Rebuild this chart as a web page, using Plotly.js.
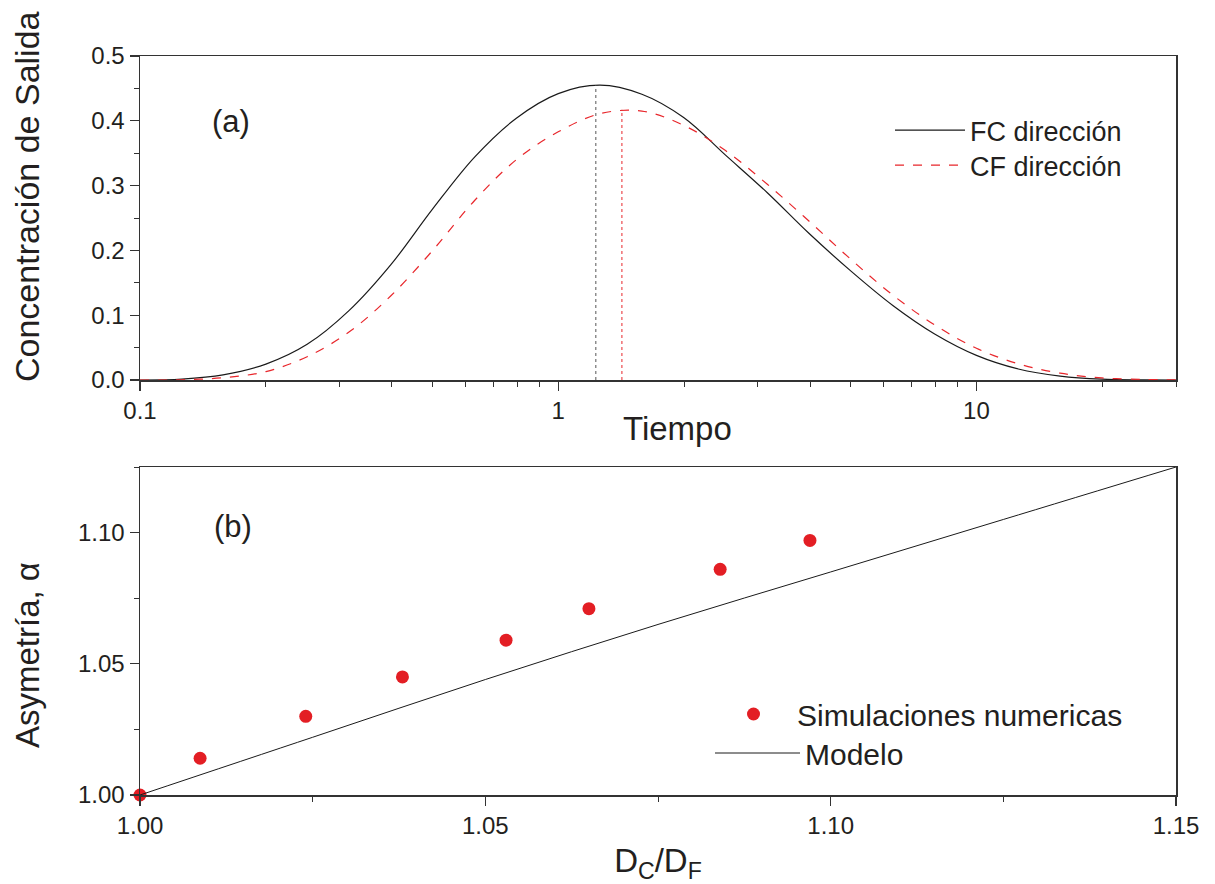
<!DOCTYPE html>
<html>
<head>
<meta charset="utf-8">
<script src="https://cdn.plot.ly/plotly-3.0.1.min.js"></script>
<style>html,body{margin:0;padding:0;background:#fff;}#chart{width:1215px;height:884px;}</style>
</head>
<body>
<div id="chart"></div>
<script>
// ---- Panel (a) data: output concentration vs time ----
var tiempo  = [0.1, 0.126, 0.158, 0.2, 0.251, 0.316, 0.398, 0.501, 0.631, 0.794, 1.0, 1.259, 1.585, 1.995, 2.512, 3.162, 3.981, 5.012, 6.31, 7.943, 10, 12.59, 15.85, 19.95, 25.12, 30];
var concFC  = [0.000, 0.0015, 0.008, 0.0245, 0.055, 0.107, 0.178, 0.264, 0.344, 0.404, 0.442, 0.455, 0.441, 0.405, 0.347, 0.289, 0.226, 0.168, 0.115, 0.071, 0.038, 0.017, 0.006, 0.0012, 0.0002, 0.0000];
var concCF  = [0.000, 0.0004, 0.0035, 0.013, 0.036, 0.074, 0.130, 0.200, 0.277, 0.340, 0.383, 0.411, 0.415, 0.393, 0.354, 0.302, 0.245, 0.186, 0.131, 0.085, 0.049, 0.025, 0.0105, 0.0032, 0.0008, 0.0002];
var peakT   = [1.23, 1.42];     // FC, CF peak times
var peakC   = [0.455, 0.417];   // FC, CF peak concentrations
var seriesA = ['FC dirección', 'CF dirección'];

// ---- Panel (b) data: asymmetry vs diffusivity ratio ----
var ratioSim = [1.000, 1.0087, 1.024, 1.038, 1.053, 1.065, 1.084, 1.097];
var asimSim  = [1.000, 1.014, 1.030, 1.045, 1.059, 1.071, 1.086, 1.097];
var ratioMod = [1.000, 1.025, 1.050, 1.075, 1.100, 1.125, 1.150];
var asimMod  = [1.000, 1.022, 1.044, 1.065, 1.085, 1.105, 1.125];
var seriesB  = ['Simulaciones numericas', 'Modelo'];

// ---- Titles ----
var titleXA = 'Tiempo';
var titleYA = 'Concentración de Salida';
var titleXB = 'D<sub>C</sub>/D<sub>F</sub>';
var titleYB = 'Asymetría, α';

var FONT = 'Liberation Sans, Arial, Helvetica, sans-serif';
var INK = '#231f20';
var RED = '#e8262b';

var traces = [
  {x: tiempo, y: concFC, type: 'scatter', mode: 'lines', name: seriesA[0],
   line: {color: '#1a1a1a', width: 1.2, shape: 'spline', smoothing: 1}, xaxis: 'x', yaxis: 'y', legend: 'legend'},
  {x: tiempo, y: concCF, type: 'scatter', mode: 'lines', name: seriesA[1],
   line: {color: RED, width: 1.2, dash: 'dash', shape: 'spline', smoothing: 1}, xaxis: 'x', yaxis: 'y', legend: 'legend4'},
  {x: [peakT[0], peakT[0]], y: [0, peakC[0]], type: 'scatter', mode: 'lines', showlegend: false,
   line: {color: '#555', width: 1, dash: 'dot'}, xaxis: 'x', yaxis: 'y', hoverinfo: 'skip'},
  {x: [peakT[1], peakT[1]], y: [0, peakC[1]], type: 'scatter', mode: 'lines', showlegend: false,
   line: {color: RED, width: 1, dash: 'dot'}, xaxis: 'x', yaxis: 'y', hoverinfo: 'skip'},
  {x: ratioSim, y: asimSim, type: 'scatter', mode: 'markers', name: seriesB[0], cliponaxis: false,
   marker: {color: '#e31e24', size: 13}, xaxis: 'x2', yaxis: 'y2', legend: 'legend2'},
  {x: ratioMod, y: asimMod, type: 'scatter', mode: 'lines', name: seriesB[1],
   line: {color: '#1a1a1a', width: 1, shape: 'spline'}, xaxis: 'x2', yaxis: 'y2', legend: 'legend3'}
];

function axisBase() {
  return {
    showline: true, mirror: true, linecolor: '#333', linewidth: 1.5,
    showgrid: false, zeroline: false,
    ticks: 'outside', ticklen: 9, tickwidth: 1.3, tickcolor: '#333',
    tickfont: {family: FONT, size: 24, color: INK},
    automargin: false
  };
}
var minorBase = {ticks: 'outside', ticklen: 5, tickwidth: 1, tickcolor: '#333', showgrid: false};

var xA = Object.assign(axisBase(), {
  domain: [140/1215, 1176/1215], anchor: 'y', type: 'log',
  range: [-1, Math.log10(30)], tickmode: 'linear', tick0: 0, dtick: 1,
  minor: Object.assign({}, minorBase, {dtick: 'D1'})
});
var yA = Object.assign(axisBase(), {
  domain: [(884-380)/884, (884-56)/884], anchor: 'x',
  range: [0, 0.5], dtick: 0.1, tick0: 0, tickformat: '.1f',
  minor: Object.assign({}, minorBase, {dtick: 0.05})
});
var xB = Object.assign(axisBase(), {
  domain: [140/1215, 1176/1215], anchor: 'y2',
  range: [1.0, 1.15], dtick: 0.05, tick0: 1, tickformat: '.2f',
  minor: Object.assign({}, minorBase, {dtick: 0.025}),
  title: {text: titleXB, font: {family: FONT, size: 33, color: INK}, standoff: 11}
});
var yB = Object.assign(axisBase(), {
  domain: [(884-795)/884, (884-467)/884], anchor: 'x2',
  range: [1.0, 1.125], dtick: 0.05, tick0: 1, tickformat: '.2f',
  minor: Object.assign({}, minorBase, {dtick: 0.025})
});

function legendAt(xpx, ypx, iw, size) {
  return {x: xpx/1215, y: 1 - ypx/884, xanchor: 'left', yanchor: 'top', itemwidth: iw,
          bgcolor: 'rgba(0,0,0,0)', font: {family: FONT, size: size, color: INK}};
}

var layout = {
  width: 1215, height: 884,
  margin: {l: 0, r: 0, t: 0, b: 0},
  paper_bgcolor: '#fff', plot_bgcolor: '#fff',
  font: {family: FONT, color: INK},
  xaxis: xA, yaxis: yA, xaxis2: xB, yaxis2: yB,
  showlegend: true,
  legend:  legendAt(890, 106, 70, 27),
  legend4: legendAt(890, 141, 70, 27),
  legend2: legendAt(710, 688, 77, 30),
  legend3: legendAt(710, 727, 85, 30),
  annotations: [
    {text: '(a)', xref: 'paper', yref: 'paper', x: 231/1215, y: 1 - 122/884, showarrow: false,
     xanchor: 'center', yanchor: 'middle', font: {family: FONT, size: 31, color: INK}},
    {text: '(b)', xref: 'paper', yref: 'paper', x: 233/1215, y: 1 - 526/884, showarrow: false,
     xanchor: 'center', yanchor: 'middle', font: {family: FONT, size: 31, color: INK}},
    {text: titleXA, xref: 'paper', yref: 'paper', x: 677/1215, y: 1 - 428/884, showarrow: false,
     xanchor: 'center', yanchor: 'middle', font: {family: FONT, size: 33, color: INK}},
    {text: titleYA, xref: 'paper', yref: 'paper', x: 27/1215, y: 1 - 197/884, showarrow: false,
     textangle: -90, xanchor: 'center', yanchor: 'middle', font: {family: FONT, size: 34, color: INK}},
    {text: titleYB, xref: 'paper', yref: 'paper', x: 27/1215, y: 1 - 655/884, showarrow: false,
     textangle: -90, xanchor: 'center', yanchor: 'middle', font: {family: FONT, size: 33, color: INK}}
  ]
};

Plotly.newPlot('chart', traces, layout, {displayModeBar: false, staticPlot: true});
</script>
</body>
</html>
